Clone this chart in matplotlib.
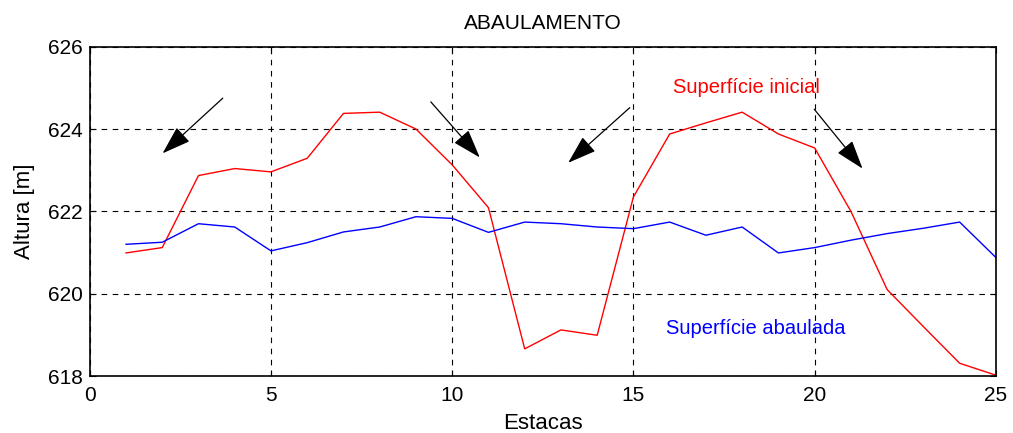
import matplotlib
matplotlib.use("Agg")
import matplotlib.pyplot as plt

plt.rcParams["font.family"] = ["Liberation Sans", "DejaVu Sans"]

estacas = list(range(1, 26))
sup_inicial = [620.99, 621.12, 622.87, 623.04, 622.96, 623.29, 624.38, 624.41, 624.00, 623.13,
               622.09, 618.66, 619.12, 618.99, 622.35, 623.88, 624.15, 624.41, 623.88, 623.54,
               622.00, 620.10, 619.20, 618.31, 618.02]
sup_abaulada = [621.20, 621.25, 621.70, 621.62, 621.04, 621.24, 621.50, 621.62, 621.87, 621.83,
                621.49, 621.74, 621.70, 621.62, 621.58, 621.74, 621.42, 621.62, 620.99, 621.12,
                621.30, 621.46, 621.59, 621.74, 620.88]

# setas (cauda -> ponta)
setas = [((3.67, 624.75), (2.01, 623.41)),
         ((9.41, 624.66), (10.76, 623.31)),
         ((14.90, 624.52), (13.20, 623.18)),
         ((19.99, 624.48), (21.32, 623.04))]

fig = plt.figure(figsize=(10.13, 4.33), dpi=100)
ax = fig.add_axes([0.0886, 0.1316, 0.8945, 0.7605])

ax.plot(estacas, sup_inicial, color="red", lw=1)
ax.plot(estacas, sup_abaulada, color="blue", lw=1)

for tail, head in setas:
    ax.annotate("", xy=head, xytext=tail,
                arrowprops=dict(arrowstyle="-|>,head_length=0.9,head_width=0.3",
                                mutation_scale=20, color="black", lw=0.9,
                                shrinkA=0, shrinkB=0))

ax.text(16.09, 625.0, "Superfície inicial", color="red", fontsize=14.5, va="center")
ax.text(15.9, 619.16, "Superfície abaulada", color="blue", fontsize=14.5, va="center")

ax.set_xlim(0, 25)
ax.set_ylim(618, 626)
ax.set_xticks([0, 5, 10, 15, 20, 25])
ax.set_yticks([618, 620, 622, 624, 626])
ax.tick_params(direction="in", top=True, right=True, labelsize=15, length=4)
ax.tick_params(axis="x", pad=7)
ax.tick_params(axis="y", pad=5)
ax.grid(True, color="black", linestyle=(0, (5, 5)), lw=0.8)
for s in ax.spines.values():
    s.set_linewidth(1.2)

ax.set_title("ABAULAMENTO", fontsize=15, pad=13)
ax.set_xlabel("Estacas", fontsize=16, labelpad=6)
ax.set_ylabel("Altura [m]", fontsize=16, labelpad=9)

fig.savefig("out.png", dpi=100)
